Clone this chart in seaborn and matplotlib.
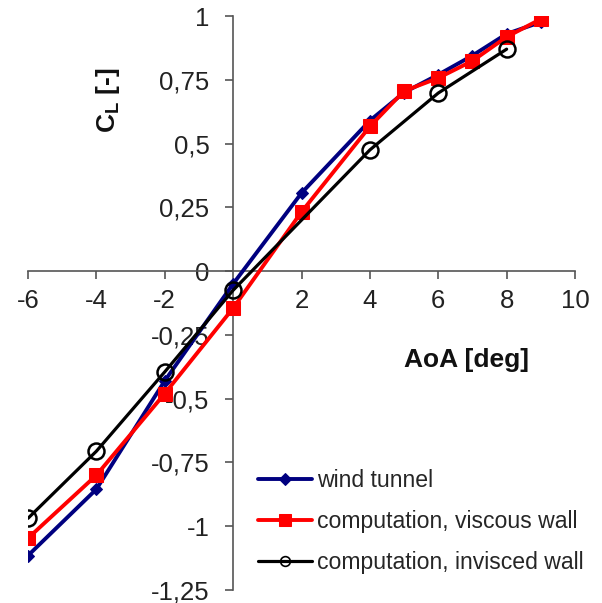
import matplotlib
matplotlib.use("Agg")
import matplotlib.pyplot as plt
import seaborn as sns
import numpy as np
from matplotlib.ticker import FuncFormatter

sns.set_style("white")
plt.rcParams['font.family'] = ['Liberation Sans', 'DejaVu Sans']

aoa_wt = [-6, -4, -2, 0, 2, 4, 5, 6, 7, 8, 9]
cl_wt = [-1.115, -0.855, -0.43, -0.05, 0.306, 0.59, 0.70, 0.77, 0.845, 0.93, 0.976]

aoa_visc = [-6, -4, -2, 0, 2, 4, 5, 6, 7, 8, 9]
cl_visc = [-1.047, -0.80, -0.48, -0.145, 0.232, 0.567, 0.706, 0.757, 0.824, 0.918, 0.988]

aoa_invisc = [-6, -4, -2, 0, 4, 6, 8]
cl_invisc = [-0.969, -0.706, -0.395, -0.075, 0.475, 0.698, 0.87]

labels = ["wind tunnel", "computation, viscous wall", "computation, invisced wall"]
x_ticks = [-6, -4, -2, 2, 4, 6, 8, 10]
y_ticks = [-1.25, -1, -0.75, -0.5, -0.25, 0, 0.25, 0.5, 0.75, 1]

fig = plt.figure(figsize=(6.02, 6.03), dpi=100)
ax = fig.add_axes([28/602, 1-590/603, (575-28)/602, (590-16)/603])

sns.lineplot(x=aoa_wt, y=cl_wt, ax=ax, color="#000080", marker="D", markersize=6,
             markeredgecolor="#000080", linewidth=2.8, label=labels[0], zorder=3)
sns.lineplot(x=aoa_visc, y=cl_visc, ax=ax, color="#ff0000", marker="s", markersize=9.5,
             markeredgecolor="#ff0000", linewidth=2.8, label=labels[1], zorder=4)
sns.lineplot(x=aoa_invisc, y=cl_invisc, ax=ax, color="black", marker="o", markersize=11.5,
             markerfacecolor="none", markeredgecolor="black", markeredgewidth=1.8,
             linewidth=2.3, label=labels[2], zorder=5)

ax.set_xlim(-6, 10)
ax.set_ylim(-1.25, 1)
ax.spines['left'].set_position(('data', 0))
ax.spines['bottom'].set_position(('data', 0))
ax.spines['right'].set_visible(False)
ax.spines['top'].set_visible(False)
for s in ('left', 'bottom'):
    ax.spines[s].set_color('#555555')
    ax.spines[s].set_linewidth(1.2)

ax.set_xticks(x_ticks)
ax.set_yticks(y_ticks)
fmt = FuncFormatter(lambda v, p: ('%g' % v).replace('.', ','))
ax.xaxis.set_major_formatter(fmt)
ax.yaxis.set_major_formatter(fmt)
ax.tick_params(axis='both', direction='out', length=6, width=1.2, color='#555555',
               labelsize=18.5, colors='#222222')
ax.tick_params(axis='x', pad=7)
ax.tick_params(axis='y', pad=11)
ax.xaxis.set_ticks_position('bottom')
ax.yaxis.set_ticks_position('left')

ax.set_xlabel("")
ax.set_ylabel("")
fig.text(467/602, 1-360/603, "AoA [deg]", fontsize=19, fontweight='bold',
         ha='center', va='center', color='#111111')
fig.text(108/602, 1-100/603, r"C$_\mathregular{L}$ [-]", fontsize=19, fontweight='bold',
         rotation=90, ha='center', va='center', color='#111111')

leg = ax.legend(loc='upper left', bbox_to_anchor=(258/602, 1-469/603),
                bbox_transform=fig.transFigure, frameon=False, fontsize=16.6,
                handlelength=2.35, handletextpad=0.2, labelspacing=0.78, borderpad=0,
                borderaxespad=0)
sizes = [6, 9, 7]
for h, s in zip(leg.legend_handles, sizes):
    h.set_markersize(s)
    if s == 7:
        h.set_markeredgewidth(1.2)

fig.savefig("out.png", dpi=100)
